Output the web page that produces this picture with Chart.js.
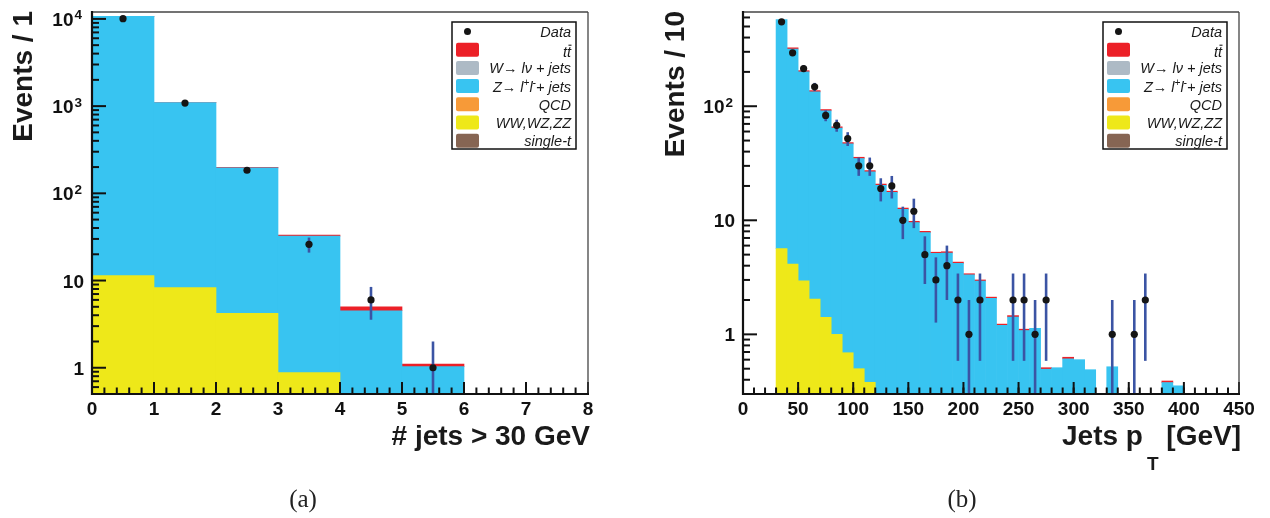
<!DOCTYPE html>
<html>
<head>
<meta charset="utf-8">
<script src="https://cdn.jsdelivr.net/npm/chart.js@4.4.1/dist/chart.umd.min.js"></script>
<style>
  html, body { margin: 0; padding: 0; background: #fff; }
  #wrap { position: relative; width: 1270px; height: 518px; overflow: hidden; }
  #wrap canvas { position: absolute; top: 0; }
  #cJets { left: 0; }
  #cPt { left: 635px; }
  .cap { position: absolute; top: 485px; width: 100px; text-align: center; line-height: 28px;
         font-family: 'Liberation Serif', 'DejaVu Serif', serif; font-size: 25px; color: #222; }
</style>
</head>
<body>
<div id="wrap">
  <canvas id="cJets" width="635" height="518"></canvas>
  <canvas id="cPt" width="635" height="518"></canvas>
  <div class="cap" style="left:253px">(a)</div>
  <div class="cap" style="left:912px">(b)</div>
</div>
<script>
// (a) number of jets above 30 GeV, one bin per unit
const jetCenters = [0.5, 1.5, 2.5, 3.5, 4.5, 5.5, 6.5, 7.5];
const jetData    = [10050, 1085, 184, 26, 6, 1, 0, 0];
const jetDiboson = [11.4, 8.3, 4.2, 0.88, 0.2, 0.05, 0, 0];
const jetZjets   = [10680, 1092, 192, 31.4, 4.3, 0.98, 0, 0];
const jetTtbar   = [5, 3, 3, 1.0, 0.5, 0.075, 0, 0];
const jetXTicks  = [0, 1, 2, 3, 4, 5, 6, 7, 8];
const jetYTicks  = [1, 10, 100, 1000, 10000];
const jetYLabels = [['1'], ['10'], ['10', '2'], ['10', '3'], ['10', '4']];

// (b) jet pT, bins of 10 GeV from 30 to 450
const ptCenters = [35, 45, 55, 65, 75, 85, 95, 105, 115, 125, 135, 145, 155, 165,
  175, 185, 195, 205, 215, 225, 235, 245, 255, 265, 275, 285, 295, 305, 315, 325,
  335, 345, 355, 365, 375, 385, 395, 405, 415, 425, 435, 445];
const ptData = [550, 294, 214, 148, 83, 68, 52, 30, 30, 19, 20, 10, 12, 5,
  3, 4, 2, 1, 2, 0, 0, 2, 2, 1, 2, 0, 0, 0, 0, 0,
  1, 0, 1, 2, 0, 0, 0, 0, 0, 0, 0, 0];
const ptDiboson = [5.65, 4.14, 2.95, 2.04, 1.41, 1.0, 0.69, 0.5, 0.38, 0.28, 0.2, 0.15, 0.1, 0.08,
  0.06, 0.04, 0.03, 0.02, 0.02, 0.01, 0.01, 0.01, 0, 0, 0, 0, 0, 0, 0, 0,
  0, 0, 0, 0, 0, 0, 0, 0, 0, 0, 0, 0];
const ptZjets = [570, 313, 197, 131.6, 89.8, 63.4, 46.1, 34.3, 26.2, 20.0, 17.35, 12.33, 9.45, 7.72,
  5.06, 5.13, 4.16, 3.3, 2.91, 2.06, 1.19, 1.41, 1.08, 1.13, 0.495, 0.51, 0.61, 0.6, 0.49, 0,
  0.52, 0, 0, 0, 0, 0.378, 0.354, 0, 0, 0, 0, 0];
const ptTtbar = [0, 8, 5, 3.4, 2.3, 1.6, 1.2, 0.9, 0.7, 0.5, 0.45, 0.32, 0.25, 0.2,
  0.13, 0.13, 0.11, 0.08, 0.07, 0.05, 0.03, 0.04, 0.03, 0, 0.015, 0, 0.02, 0, 0, 0,
  0, 0, 0, 0, 0, 0.012, 0, 0, 0, 0, 0, 0];
const ptXTicks  = [0, 50, 100, 150, 200, 250, 300, 350, 400, 450];
const ptYTicks  = [1, 10, 100];
const ptYLabels = [['1'], ['10'], ['10', '2']];

const legendLabels = ['Data', 'tt', 'W\u2192 l\u03bd + jets', 'Z\u2192 l+l- + jets', 'QCD', 'WW,WZ,ZZ', 'single-t'];

const FONT = "'Liberation Sans', Arial, Helvetica, sans-serif";
const COLORS = {
  data: '#151515', err: '#3b54a4',
  ttbar: '#ec2027', wjets: '#adbac5', zjets: '#38c4f1',
  qcd: '#f79a38', diboson: '#eee819', singlet: '#866553'
};
const legendColors = [null, COLORS.ttbar, COLORS.wjets, COLORS.zjets, COLORS.qcd, COLORS.diboson, COLORS.singlet];

// text made of pieces, some raised or lowered; drawn right-aligned at xr
function drawPieces(ctx, pieces, xr, y) {
  let w = 0;
  pieces.forEach(p => { ctx.font = p.font; w += ctx.measureText(p.t).width + (p.gap || 0); });
  let x = xr - w;
  ctx.textAlign = 'left';
  pieces.forEach(p => {
    ctx.font = p.font;
    x += p.gap || 0;
    ctx.fillText(p.t, x, y + (p.dy || 0));
    x += ctx.measureText(p.t).width;
  });
}

function rootStyle(cfg) {
  return {
    id: 'rootStyle',
    beforeDatasetDraw(chart, args) {
      if (chart.data.datasets[args.index].type !== 'scatter') return;
      const { ctx, chartArea: a, scales: { x, y } } = chart;
      ctx.save();
      ctx.beginPath();
      ctx.rect(a.left, a.top, a.right - a.left, a.bottom - a.top);
      ctx.clip();
      ctx.strokeStyle = COLORS.err;
      ctx.lineWidth = 2.6;
      cfg.data.forEach((n, i) => {
        if (n <= 0) return;
        const e = Math.sqrt(n);
        const px = x.getPixelForValue(cfg.centers[i]);
        const lo = n - e;
        ctx.beginPath();
        ctx.moveTo(px, y.getPixelForValue(n + e));
        ctx.lineTo(px, lo > 0 ? y.getPixelForValue(lo) : a.bottom + 2);
        ctx.stroke();
      });
      ctx.restore();
    },
    afterDatasetsDraw(chart) {
      const { ctx, chartArea: a, scales: { x, y } } = chart;
      ctx.save();

      // ticks pointing into the frame
      ctx.strokeStyle = '#111';
      ctx.lineWidth = 2;
      const line = (x1, y1, x2, y2) => { ctx.beginPath(); ctx.moveTo(x1, y1); ctx.lineTo(x2, y2); ctx.stroke(); };
      const nMinor = Math.round((cfg.xMax - cfg.xMin) / cfg.xMinor);
      for (let i = 0; i <= nMinor; i++) {
        const v = cfg.xMin + i * cfg.xMinor;
        const px = x.getPixelForValue(v);
        line(px, a.bottom, px, a.bottom - 6.5);
      }
      cfg.xTicks.forEach(v => {
        const px = x.getPixelForValue(v);
        line(px, a.bottom, px, a.bottom - 12);
      });
      const d0 = Math.floor(Math.log10(cfg.yMin)), d1 = Math.ceil(Math.log10(cfg.yMax));
      for (let d = d0; d <= d1; d++) {
        for (let k = 1; k <= 9; k++) {
          const v = k * Math.pow(10, d);
          if (v < cfg.yMin || v > cfg.yMax) continue;
          const py = y.getPixelForValue(v);
          line(a.left, py, a.left + (k === 1 ? 14 : 7), py);
        }
      }

      // y labels with raised exponents
      ctx.fillStyle = '#111';
      ctx.textBaseline = 'alphabetic';
      cfg.yTicks.forEach((v, i) => {
        const [base, exp] = cfg.yLabels[i];
        const py = y.getPixelForValue(v);
        const pieces = [{ t: base, font: 'bold 19px ' + FONT }];
        if (exp) pieces.push({ t: exp, font: 'bold 13.5px ' + FONT, dy: -6.5, gap: 1 });
        drawPieces(ctx, pieces, a.left - (exp ? 10 : 8), py + 7);
      });

      // frame
      ctx.strokeStyle = '#444';
      ctx.lineWidth = 1.3;
      line(a.left, a.top, a.right, a.top);
      line(a.right, a.top, a.right, a.bottom);
      ctx.strokeStyle = '#111';
      ctx.lineWidth = 2.2;
      line(a.left, a.top - 1, a.left, a.bottom + 1);
      line(a.left - 1, a.bottom, a.right + 1, a.bottom);

      // legend
      const bw = 124, bh = 127;
      const bx = a.right - 136, by = a.top + 10;
      ctx.fillStyle = '#fff';
      ctx.fillRect(bx, by, bw, bh);
      ctx.strokeStyle = '#111';
      ctx.lineWidth = 1.5;
      ctx.strokeRect(bx, by, bw, bh);
      const it = 'italic 14.5px ' + FONT, itSup = 'italic 10px ' + FONT;
      const xr = bx + bw - 5;
      legendLabels.forEach((lab, i) => {
        const ry = by + 9.5 + i * 18.2;
        if (i === 0) {
          ctx.fillStyle = COLORS.data;
          ctx.beginPath();
          ctx.arc(bx + 15.5, ry, 3.5, 0, Math.PI * 2);
          ctx.fill();
        } else {
          ctx.fillStyle = legendColors[i];
          ctx.beginPath();
          ctx.roundRect(bx + 4, ry - 7, 23, 14, 2);
          ctx.fill();
        }
        ctx.fillStyle = '#1a1a1a';
        if (i === 1) {
          ctx.font = it;
          ctx.textAlign = 'right';
          ctx.fillText(lab, xr, ry + 7);
          const tw = ctx.measureText('t').width;
          ctx.strokeStyle = '#1a1a1a';
          ctx.lineWidth = 1.1;
          line(xr - tw + 1.5, ry - 4.5, xr + 0.5, ry - 4.5);
        } else if (i === 3) {
          drawPieces(ctx, [
            { t: 'Z\u2192 l', font: it },
            { t: '+', font: itSup, dy: -6 },
            { t: 'l', font: it },
            { t: '-', font: itSup, dy: -6 },
            { t: '+ jets', font: it }
          ], xr, ry + 5.5);
        } else {
          ctx.font = it;
          ctx.textAlign = 'right';
          ctx.fillText(lab, xr, ry + 5.5);
        }
      });

      // axis titles
      ctx.fillStyle = '#1a1a1a';
      const bold = 'bold 28px ' + FONT;
      ctx.font = bold;
      ctx.save();
      ctx.translate(cfg.yTitleX, a.top - 1);
      ctx.rotate(-Math.PI / 2);
      ctx.textAlign = 'right';
      ctx.fillText(cfg.yTitle, 0, 0);
      ctx.restore();
      drawPieces(ctx, cfg.xTitle.map(p => Object.assign({ font: p.sub ? 'bold 19px ' + FONT : bold }, p)), a.right + 2, 445);

      ctx.restore();
    }
  };
}

function makeChart(id, cfg) {
  const pts = vals => cfg.centers.map((x, i) => ({ x, y: vals[i] > 0 ? vals[i] : null }));
  const tickFont = { family: FONT, size: 19, weight: 'bold', lineHeight: 1 };
  return new Chart(document.getElementById(id), {
    type: 'bar',
    data: {
      datasets: [
        { label: 'WW,WZ,ZZ', data: pts(cfg.diboson), backgroundColor: COLORS.diboson, stack: 'mc', borderWidth: 0 },
        { label: 'Z + jets', data: pts(cfg.zjets), backgroundColor: COLORS.zjets, stack: 'mc', borderWidth: 0 },
        { label: 'ttbar', data: pts(cfg.ttbar), backgroundColor: COLORS.ttbar, stack: 'mc', borderWidth: 0 },
        { type: 'scatter', label: 'Data', data: pts(cfg.data), stack: 'data', order: -1,
          pointRadius: 3.6, pointBackgroundColor: COLORS.data, pointBorderWidth: 0 }
      ]
    },
    options: {
      responsive: false,
      animation: false,
      events: [],
      barPercentage: 1,
      categoryPercentage: 1,
      layout: { padding: { top: 12, right: cfg.padRight, bottom: 0, left: 0 } },
      plugins: { legend: { display: false }, tooltip: { enabled: false } },
      scales: {
        x: {
          type: 'linear', stacked: true, offset: false,
          min: cfg.xMin, max: cfg.xMax,
          grid: { display: false, drawTicks: false },
          border: { display: false },
          afterBuildTicks: s => { s.ticks = cfg.xTicks.map(v => ({ value: v })); },
          afterFit: s => { s.height = 124; s.paddingLeft = 0; s.paddingRight = 0; },
          ticks: { font: tickFont, color: '#111', padding: 6, maxRotation: 0, autoSkip: false,
                   callback: v => String(v) }
        },
        y: {
          type: 'logarithmic', stacked: true,
          min: cfg.yMin, max: cfg.yMax,
          grid: { display: false, drawTicks: false },
          border: { display: false },
          afterBuildTicks: s => { s.ticks = cfg.yTicks.map(v => ({ value: v })); },
          afterFit: s => { s.width = cfg.yWidth; s.paddingTop = 0; s.paddingBottom = 0; },
          ticks: { display: false }
        }
      }
    },
    plugins: [rootStyle(cfg)]
  });
}

makeChart('cJets', {
  centers: jetCenters, data: jetData, diboson: jetDiboson, zjets: jetZjets, ttbar: jetTtbar,
  xTicks: jetXTicks, yTicks: jetYTicks, yLabels: jetYLabels,
  xMin: 0, xMax: 8, xMinor: 0.2, yMin: 0.5, yMax: 12000,
  yWidth: 92, padRight: 47, yTitleX: 32,
  yTitle: 'Events / 1',
  xTitle: [{ t: '# jets > 30 GeV' }]
});

makeChart('cPt', {
  centers: ptCenters, data: ptData, diboson: ptDiboson, zjets: ptZjets, ttbar: ptTtbar,
  xTicks: ptXTicks, yTicks: ptYTicks, yLabels: ptYLabels,
  xMin: 0, xMax: 450, xMinor: 10, yMin: 0.3, yMax: 670,
  yWidth: 108, padRight: 31, yTitleX: 49,
  yTitle: 'Events / 10',
  xTitle: [{ t: 'Jets p' }, { t: 'T', sub: true, dy: 25, gap: 4 }, { t: ' [GeV]' }]
});
</script>
</body>
</html>
